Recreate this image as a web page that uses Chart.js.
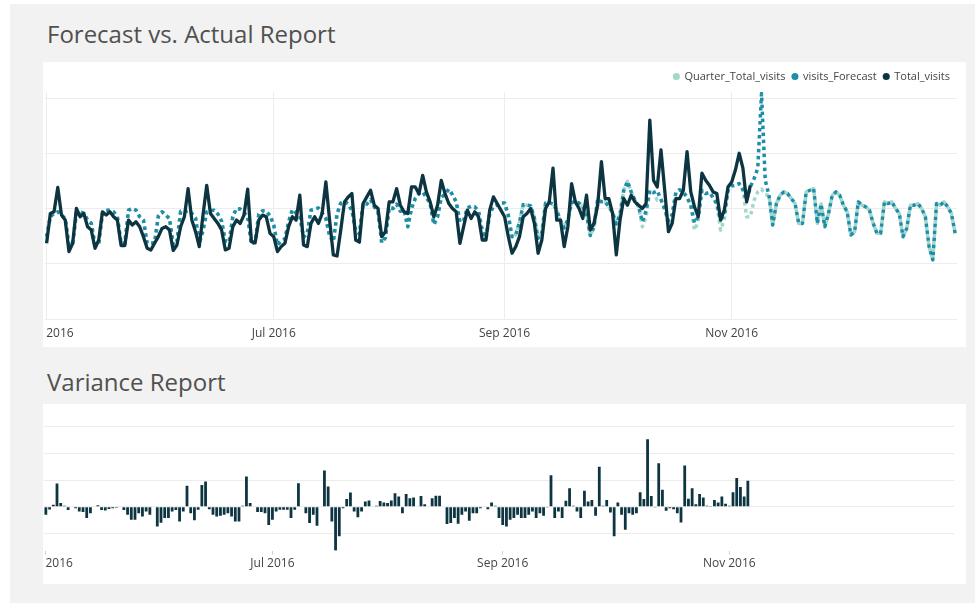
<!DOCTYPE html>
<html>
<head>
<meta charset="utf-8">
<title>Forecast vs. Actual Report</title>
<script src="https://cdn.jsdelivr.net/npm/chart.js@4.4.1/dist/chart.umd.min.js"></script>
<style>
  html, body { margin: 0; padding: 0; background: #fff; }
  body { width: 975px; height: 603px; position: relative; overflow: hidden; font-family: 'Open Sans', sans-serif; }
  #bg { position: absolute; left: 10px; top: 4px; right: 0; bottom: 0; background: #f2f2f2; }
  .title { position: absolute; left: 47px; font-size: 24px; line-height: 24px; color: #505050; white-space: nowrap; }
  .panel { position: absolute; left: 43px; width: 923px; background: #fff; }
  canvas { display: block; }
</style>
</head>
<body>
<div id="bg"></div>
<div class="title" style="top:22px">Forecast vs. Actual Report</div>
<div class="panel" style="top:62px;height:285px"><canvas id="forecastChart" width="923" height="285"></canvas></div>
<div class="title" style="top:370px">Variance Report</div>
<div class="panel" style="top:404px;height:180px"><canvas id="varianceChart" width="923" height="180"></canvas></div>
<script>
// Daily visits, day 0 = 1 May 2016 (last forecast day = 31 Dec 2016)
const tickDays = [0, 61, 123, 184];
const tickLabels = ['May 2016', 'Jul 2016', 'Sep 2016', 'Nov 2016'];
const visitsGrid = [0, 1000, 2000, 3000, 4000];
const varianceGrid = [-500, 0, 500, 1000, 1500];

const totalVisits = [
  1370,1910,1940,2380,1880,1790,1220,1370,2000,1850,
  1910,1670,1610,1280,1430,1940,1880,1940,1850,1790,
  1330,1330,1790,1700,1760,1670,1490,1280,1250,1370,
  1490,1640,1670,1610,1240,1340,1670,1850,2360,1790,
  1580,1310,1880,2420,1910,1820,1730,1610,1250,1280,
  1670,1790,1730,1880,2350,1400,1380,1790,1880,1850,
  1550,1490,1220,1310,1370,1670,1850,1790,2240,1340,
  1310,1730,1850,1730,1910,2480,1790,1160,1140,1610,
  2120,2210,2270,1430,1390,2090,2210,2330,2060,2000,
  1490,1580,2120,2120,2360,2060,1940,1910,2390,2390,
  2270,2600,2300,2120,1850,2060,2510,2270,2090,2000,
  1940,1370,1670,1970,1820,1940,1850,1430,1430,1970,
  2210,2090,1970,1850,1490,1190,1310,1490,1850,1910,
  2000,1730,1190,1430,2000,2120,2730,1790,1790,1310,
  1670,2450,2120,2000,1820,2240,1610,1730,2060,2850,
  2180,2180,1910,1160,1790,2180,2060,2240,2120,2060,
  2000,2090,3600,2510,2390,3060,2330,1580,1730,2180,
  2180,2330,3030,2300,2030,1850,2640,2510,2420,2300,
  2270,1790,1970,2390,2480,2700,3000,2730,2120,2420
];

const visitsForecast = [
  1490,1850,1910,1940,1880,1820,1340,1370,1910,1940,
  1910,1790,1730,1340,1370,1910,1970,1970,1940,1850,
  1370,1370,1970,2000,1970,1850,1790,1370,1370,1380,
  1860,1940,1880,1820,1340,1400,1950,1940,1960,1910,
  1830,1370,1600,1940,1960,1970,1900,1770,1410,1390,
  1850,2000,1990,1930,1850,1350,1400,1900,1960,1950,
  1870,1700,1340,1410,1450,1760,1980,1920,1860,1480,
  1550,1970,1990,2010,1920,1820,1500,1400,1900,2100,
  2130,2080,1960,1600,1540,2090,2080,2160,2030,1950,
  1380,1470,2010,2000,2080,1950,1970,1670,2000,2180,
  2270,2300,2200,2090,1710,1850,2200,2260,2350,2250,
  2120,1760,1780,2010,2040,2030,1950,1600,1460,1900,
  2040,2060,2100,2100,1880,1490,1530,1750,2070,2060,
  2050,1830,1460,1560,2100,2110,2080,1970,1780,1650,
  1800,2110,2120,2100,2030,1900,1510,1660,2170,2120,
  2120,2030,1930,1720,1900,2330,2490,2300,2150,2030,
  1760,1960,2330,2290,2320,2160,1990,1780,1890,2290,
  2340,2300,2200,2060,1740,1850,2330,2270,2290,2200,
  2080,1800,1870,2330,2410,2420,2450,2340,2150,2390,
  2540,2730,4080,2510,2240,1700,2090,2240,2300,2270,
  2180,2090,1730,1730,2300,2330,2360,1730,2080,1670,
  1910,2240,2300,2240,2060,1940,1520,1580,2120,2060,
  2030,1970,1730,1550,1550,2120,2090,2120,2000,1910,
  1490,1640,2060,2060,2090,2000,1850,1310,1070,2090,
  2060,2120,2030,1910,1550
];

const quarterTotalVisits = [
  1490,1850,1910,1940,1880,1820,1340,1370,1910,1940,
  1910,1790,1730,1340,1370,1910,1970,1970,1940,1850,
  1370,1370,1970,2000,1970,1850,1790,1370,1370,1380,
  1860,1940,1880,1820,1340,1400,1950,1940,1960,1910,
  1830,1370,1600,1940,1960,1970,1900,1770,1410,1390,
  1850,2000,1990,1930,1850,1350,1400,1900,1960,1950,
  1870,1700,1340,1410,1450,1760,1980,1920,1860,1480,
  1550,1970,1990,2010,1920,1820,1500,1400,1900,2100,
  2130,2080,1960,1600,1540,2090,2080,2160,2030,1950,
  1380,1470,2010,2000,2080,1950,1970,1670,2000,2180,
  2270,2300,2200,2090,1710,1850,2200,2260,2350,2250,
  2120,1760,1780,2010,2040,2030,1950,1600,1460,1900,
  2040,2060,2100,2100,1850,1460,1530,1750,2070,2060,
  2050,1830,1460,1560,2100,2110,2080,1970,1780,1650,
  1800,2110,2120,2100,2030,1900,1510,1660,2170,2120,
  2120,2030,1930,1700,1900,2330,2490,2300,2150,2030,
  1670,1850,2330,2290,2150,2160,1990,1700,1890,2290,
  2340,2300,2200,2060,1610,1760,2330,2270,2290,2200,
  2080,1610,1800,2330,2410,2420,2450,2340,1850,1850,
  2150,2300,2350,2250,2240,1700,2090,2240,2300,2270,
  2180,2090,1730,1730,2300,2330,2360,1730,2080,1670,
  1910,2240,2300,2240,2060,1940,1520,1580,2120,2060,
  2030,1970,1730,1550,1550,2120,2090,2120,2000,1910,
  1490,1640,2060,2060,2090,2000,1850,1310,1070,2090,
  2060,2120,2030,1910,1550
];

const visitsVariance = [
  -150,-50,40,440,70,20,-60,0,-25,-90,
  -100,-210,-120,0,30,-60,-70,-40,-25,-20,
  0,-60,-150,-245,-245,-120,-180,-90,-150,0,
  -370,-300,-210,-210,-90,-60,-275,-90,395,-120,
  -255,-55,410,475,-45,-150,-180,-170,-150,-120,
  -180,-275,-275,20,570,70,0,-100,-100,-120,
  -340,-245,-90,-55,-55,-55,-210,-55,445,0,
  -120,-305,-150,-355,0,680,380,-275,-825,-555,
  -25,145,270,-90,-195,-90,100,120,0,20,
  110,80,70,120,255,195,-120,240,160,175,
  0,205,50,0,160,210,210,0,-325,-305,
  -210,-320,-150,-90,-260,-120,-120,-25,0,-45,
  80,20,-210,-340,-370,-245,-210,-150,-210,-210,
  -150,-90,-210,-120,-170,-5,595,-210,-90,-210,
  115,350,20,-90,-210,300,100,130,-170,755,
  20,130,-105,-555,80,-150,-430,-120,-150,-120,
  275,145,1270,205,-5,820,320,-75,-25,-45,
  -120,-295,775,150,350,50,240,175,20,5,
  130,80,195,55,20,275,540,370,195,490
];

const DARK = '#0c3441';
const TEAL = '#1e8ea8';
const MINT = '#a3d7cb';
const GRID = '#ececec';

Chart.defaults.font.family = "'Open Sans', sans-serif";
Chart.defaults.color = '#444';

function points(arr) { return arr.map((v, i) => ({ x: i, y: v })); }

function dayAxis(height, padding, grid) {
  return {
    type: 'linear', min: -0.5, max: 244.5, offset: false,
    afterBuildTicks: s => { s.ticks = tickDays.map(v => ({ value: v })); },
    afterFit: s => { s.height = height; s.paddingLeft = 0; s.paddingRight = 0; },
    ticks: { autoSkip: false, maxRotation: 0, minRotation: 0, padding, color: '#444', font: { size: 12 },
      callback: (v, i) => tickLabels[i] },
    grid,
    border: { display: false }
  };
}

// hidden value axis, gridlines only at the given values
function valueAxis(min, max, gridValues) {
  return {
    type: 'linear', min, max,
    afterBuildTicks: s => { s.ticks = gridValues.map(v => ({ value: v })); },
    afterFit: s => { s.width = 0; },
    ticks: { display: false },
    grid: { color: GRID, drawTicks: false },
    border: { display: false }
  };
}

// keep the gridline spacing fixed whatever height the legend takes:
// zeroY is the canvas row of the value 0, pxPerUnit the pixels per visit
function fitValueRange(chart, zeroY, pxPerUnit) {
  const area = chart.chartArea;
  const y = chart.options.scales.y;
  y.max = (zeroY - area.top) / pxPerUnit;
  y.min = -(area.bottom - zeroY) / pxPerUnit;
  chart.update();
}

const forecastChart = new Chart(document.getElementById('forecastChart'), {
  type: 'line',
  data: {
    datasets: [
      { label: 'Quarter_Total_visits', data: points(quarterTotalVisits), borderColor: MINT, backgroundColor: MINT,
        borderWidth: 3.5, borderDash: [3.5, 3.5], order: 3 },
      { label: 'visits_Forecast', data: points(visitsForecast), borderColor: TEAL, backgroundColor: TEAL,
        borderWidth: 3.5, borderDash: [3.5, 3.5], order: 2 },
      { label: 'Total_visits', data: points(totalVisits), borderColor: DARK, backgroundColor: DARK,
        borderWidth: 3.3, order: 1 }
    ]
  },
  options: {
    responsive: false, animation: false, events: [],
    layout: { padding: { left: 1, right: 9, top: 2, bottom: 0 } },
    elements: { point: { radius: 0 }, line: { tension: 0, borderJoinStyle: 'round', fill: false } },
    scales: {
      x: dayAxis(28, 7, { color: GRID, drawTicks: false, offset: false }),
      y: valueAxis(0, 4110, visitsGrid)
    },
    plugins: {
      tooltip: { enabled: false },
      legend: {
        position: 'top', align: 'end',
        labels: {
          usePointStyle: true, boxWidth: 5, boxHeight: 5, padding: 7, color: '#444', font: { size: 11 },
          sort: (a, b) => a.datasetIndex - b.datasetIndex,
          generateLabels: chart => Chart.defaults.plugins.legend.labels.generateLabels(chart)
            .map(l => Object.assign(l, { lineWidth: 0, lineDash: [], pointStyle: 'circle', strokeStyle: l.fillStyle }))
        }
      }
    }
  }
});
fitValueRange(forecastChart, forecastChart.chartArea.bottom, 55.25 / 1000);

const varianceChart = new Chart(document.getElementById('varianceChart'), {
  type: 'bar',
  data: {
    datasets: [
      { label: 'Variance', data: points(visitsVariance), backgroundColor: DARK,
        categoryPercentage: 1, barPercentage: 0.75 }
    ]
  },
  options: {
    responsive: false, animation: false, events: [],
    layout: { padding: { left: 1, right: 12, top: 6, bottom: 0 } },
    scales: {
      x: dayAxis(33.5, 2, { drawOnChartArea: false, drawTicks: true, tickLength: 4, tickColor: '#d0d0d0', offset: false }),
      y: valueAxis(-821, 1820, varianceGrid)
    },
    plugins: { legend: { display: false }, tooltip: { enabled: false } }
  }
});
fitValueRange(varianceChart, 102.8, 26.6 / 500);
</script>
</body>
</html>
